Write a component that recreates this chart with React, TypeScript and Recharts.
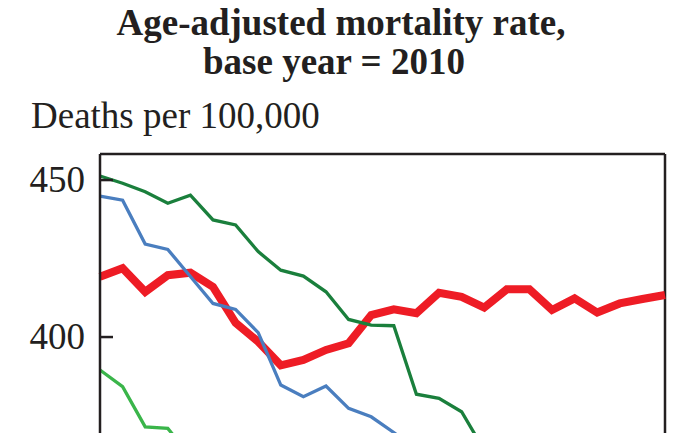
import { LineChart, Line, XAxis, YAxis, ReferenceLine } from 'recharts';

// years shown on the (hidden) horizontal axis
const years = [
  1999, 2000, 2001, 2002, 2003, 2004, 2005, 2006, 2007, 2008, 2009, 2010, 2011,
  2012, 2013, 2014, 2015, 2016, 2017, 2018, 2019, 2020, 2021, 2022, 2023, 2024,
];

const redSeries = [
  419.2, 421.9, 414.4, 419.7, 420.5, 416.0, 404.5, 398.5, 391.0, 392.7, 395.9, 398.0, 407.0,
  408.8, 407.6, 414.1, 412.8, 409.4, 415.2, 415.2, 408.6, 412.3, 407.8, 410.7, 412.1, 413.4,
];
const darkGreenSeries = [
  451.3, 449.0, 446.3, 442.6, 445.2, 437.3, 435.7, 427.2, 421.3, 419.4, 414.4, 405.6, 403.8,
  403.6, 381.8, 380.5, 376.2, 364.0, 358.0, 352.0, 349.0, 345.0, 342.0, 338.0, 335.0, 333.0,
];
const blueSeries = [
  444.9, 443.6, 429.6, 427.9, 419.3, 410.7, 408.8, 401.4, 384.7, 381.0, 384.4, 377.3, 374.6,
  369.6, 364.0, 360.0, 355.0, 352.0, 348.0, 345.0, 342.0, 339.0, 337.0, 335.0, 333.0, 331.0,
];
const lightGreenSeries = [
  389.5, 384.2, 371.4, 370.9, 362.0, 356.0, 350.0, 345.0, 340.0, 336.0, 332.0, 328.0, 325.0,
  322.0, 320.0, 318.0, 316.0, 314.0, 312.0, 311.0, 310.0, 309.0, 308.0, 307.0, 306.0, 305.0,
];

// only the ticks that fall inside the visible part of the frame
const yTicks = [400, 450];
const yDomain = [300, 458.3];

const data = years.map((year, i) => ({
  year,
  red: redSeries[i],
  darkGreen: darkGreenSeries[i],
  blue: blueSeries[i],
  lightGreen: lightGreenSeries[i],
}));

const ink = '#231f20';
const serif = '"Liberation Serif", "Times New Roman", serif';

const LeftTick = (props: any) => {
  const { x, y, payload } = props;
  return (
    <g>
      <line x1={x + 15} x2={x + 28} y1={y} y2={y} stroke={ink} strokeWidth={2.5} />
      <text x={x} y={y} dy="0.33em" textAnchor="end" fontFamily={serif} fontSize={37} fill={ink}>
        {payload.value}
      </text>
    </g>
  );
};

export default function App() {
  return (
    <div style={{ position: 'fixed', top: 0, left: 0, width: 679, height: 433, overflow: 'hidden', background: '#fff' }}>
      <LineChart width={679} height={656} data={data} margin={{ top: 154, right: 14, bottom: 5, left: 0 }}>
        <XAxis dataKey="year" hide />
        <YAxis
          yAxisId="l"
          width={100}
          domain={yDomain}
          ticks={yTicks}
          tickSize={0}
          tickMargin={15}
          tick={<LeftTick />}
          axisLine={{ stroke: ink, strokeWidth: 2.5 }}
        />
        {/* frame: top and right edges */}
        <ReferenceLine yAxisId="l" y={yDomain[1]} stroke={ink} strokeWidth={2.5} />
        <ReferenceLine yAxisId="l" x={years[years.length - 1]} stroke={ink} strokeWidth={2.5} />
        <Line yAxisId="l" type="linear" dataKey="red" stroke="#ee1c25" strokeWidth={8} dot={false} isAnimationActive={false} />
        <Line yAxisId="l" type="linear" dataKey="darkGreen" stroke="#1a7f3c" strokeWidth={3.3} dot={false} isAnimationActive={false} />
        <Line yAxisId="l" type="linear" dataKey="blue" stroke="#4a7ebf" strokeWidth={3.3} dot={false} isAnimationActive={false} />
        <Line yAxisId="l" type="linear" dataKey="lightGreen" stroke="#3ab54a" strokeWidth={3.3} dot={false} isAnimationActive={false} />
      </LineChart>
      <svg width={679} height={433} style={{ position: 'absolute', top: 0, left: 0, pointerEvents: 'none' }}>
        <text x={341} y={35} textAnchor="middle" fontFamily={serif} fontWeight="bold" fontSize={37} fill={ink}>
          Age-adjusted mortality rate,
        </text>
        <text x={334} y={74} textAnchor="middle" fontFamily={serif} fontWeight="bold" fontSize={37} fill={ink}>
          base year = 2010
        </text>
        <text x={31} y={128} fontFamily={serif} fontSize={37} fill={ink}>
          Deaths per 100,000
        </text>
      </svg>
    </div>
  );
}
